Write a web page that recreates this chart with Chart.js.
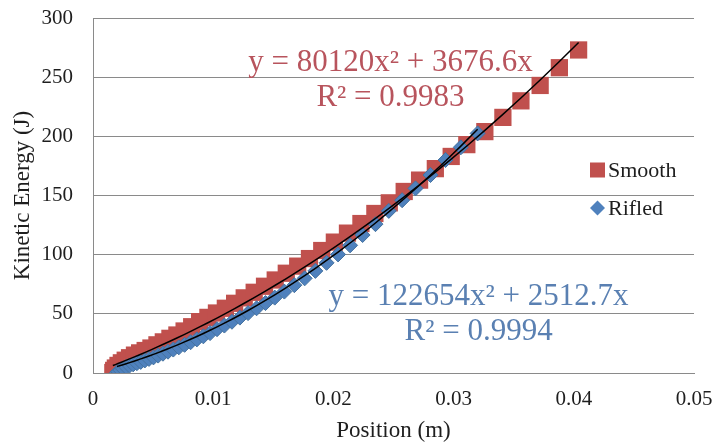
<!DOCTYPE html>
<html>
<head>
<meta charset="utf-8">
<script src="https://cdn.jsdelivr.net/npm/chart.js@4.4.0/dist/chart.umd.min.js"></script>
<style>
  html, body { margin: 0; padding: 0; background: #fff; }
  #wrap { width: 716px; height: 445px; }
</style>
</head>
<body>
<div id="wrap"><canvas id="chart" width="716" height="445"></canvas></div>
<script>
// ── Data ────────────────────────────────────
// Position in m, kinetic energy in J

const smoothX = [0.00165, 0.00172, 0.00186, 0.00208, 0.00236, 0.00268, 0.00304, 0.00345, 0.00388, 0.00434,
    0.00482, 0.00532, 0.00585, 0.0064, 0.00698, 0.00758, 0.00821, 0.00887, 0.00956, 0.01027,
    0.01101, 0.01178, 0.01258, 0.01341, 0.01427, 0.01516, 0.01608, 0.01703, 0.01801, 0.01903,
    0.02008, 0.02117, 0.02229, 0.02345, 0.02465, 0.02589, 0.02717, 0.02848, 0.0298, 0.0311,
    0.0326, 0.0341, 0.0356, 0.0372, 0.0388, 0.0404];
const smoothKE = [0.4, 2.2, 4.2, 6.4, 8.6, 10.8, 12.9, 15.1, 17.0, 19.0,
    21.1, 23.8, 26.3, 29.3, 32.1, 35.5, 39.1, 43.4, 47.0, 50.7,
    54.7, 58.9, 63.5, 68.2, 73.3, 78.6, 84.3, 90.3, 96.7, 103.5,
    110.6, 118.2, 126.3, 134.8, 143.8, 153.4, 163.0, 172.7, 183, 193,
    204, 216, 230, 243, 258, 273];

const rifledX = [0.0020, 0.0021, 0.00228, 0.0025, 0.00276, 0.00304, 0.00334, 0.00365, 0.00397, 0.00431,
    0.00466, 0.00503, 0.00542, 0.00582, 0.00624, 0.00668, 0.00714, 0.00762, 0.00812, 0.00864,
    0.00918, 0.00974, 0.01032, 0.01093, 0.01156, 0.01222, 0.0129, 0.01361, 0.01435, 0.01512,
    0.01592, 0.01675, 0.01761, 0.0185, 0.01943, 0.02039, 0.02139, 0.02243, 0.0235, 0.02461,
    0.02572, 0.02683, 0.02808, 0.02933, 0.0306, 0.0320];
const rifledKE = [0.3, 1.2, 2.4, 3.6, 5.0, 6.3, 7.3, 8.3, 9.4, 10.6,
    11.9, 13.2, 14.7, 16.3, 18.0, 19.8, 21.7, 23.8, 26.0, 28.4,
    31.0, 33.7, 37.0, 40.1, 43.3, 46.8, 50.6, 54.7, 59.1, 63.7,
    68.8, 74.2, 80.0, 86.3, 93.1, 100.2, 107.9, 116.6, 125.8, 137.0,
    146.0, 156.0, 167.3, 180.0, 190.7, 202.5];

const SERIES_NAMES = ['Smooth', 'Rifled'];
const X_TICK_LABELS = ['0', '0.01', '0.02', '0.03', '0.04', '0.05'];
const Y_TICK_LABELS = ['0', '50', '100', '150', '200', '250', '300'];

// Trendline coefficients as printed on the chart: y = a·x² + b·x
const SMOOTH_FIT = [80120, 3676.6];
const RIFLED_FIT = [122654, 2512.7];
const SMOOTH_R2 = '0.9983';
const RIFLED_R2 = '0.9994';

// ── Styling ─────────────────────────────────

const FONT = '"Liberation Serif", "Times New Roman", serif';
const TEXT_COLOR = '#1e1e1e';
const GRID_COLOR = '#8a8a8a';
const SMOOTH_COLOR = '#C0504D';
const RIFLED_COLOR = '#4F81BD';
const SMOOTH_TEXT = '#b8545d';
const RIFLED_TEXT = '#5a80b2';

function points(xs, ys) {
    return xs.map((x, i) => ({ x, y: ys[i] }));
}

function trend(xs, fit) {
    return xs.map(x => ({ x, y: fit[0] * x * x + fit[1] * x }));
}

// Equation labels, anchored in data units (centre of each line)
const EQ_LABELS = [
    { at: [0.02475, 262], color: SMOOTH_TEXT,
      lines: [`y = ${SMOOTH_FIT[0]}x² + ${SMOOTH_FIT[1]}x`, `R² = ${SMOOTH_R2}`] },
    { at: [0.03208, 64.5], color: RIFLED_TEXT,
      lines: [`y = ${RIFLED_FIT[0]}x² + ${RIFLED_FIT[1]}x`, `R² = ${RIFLED_R2}`] },
];

const overlayPlugin = {
    id: 'overlay',
    afterDatasetsDraw(chart) {
        const { ctx, scales: { x, y } } = chart;
        ctx.save();

        // trendline equations
        ctx.font = `31px ${FONT}`;
        ctx.textAlign = 'center';
        ctx.textBaseline = 'middle';
        EQ_LABELS.forEach(lbl => {
            ctx.fillStyle = lbl.color;
            const px = x.getPixelForValue(lbl.at[0]);
            const py = y.getPixelForValue(lbl.at[1]);
            lbl.lines.forEach((t, i) => ctx.fillText(t, px, py + i * 35));
        });

        // legend (sits inside the plot, no frame)
        const lx = 590, ly = 170, gap = 38;
        ctx.font = `22px ${FONT}`;
        ctx.textAlign = 'left';
        ctx.fillStyle = SMOOTH_COLOR;
        ctx.fillRect(lx, ly - 7.5, 15, 15);
        ctx.fillStyle = RIFLED_COLOR;
        ctx.beginPath();
        ctx.moveTo(lx + 7.5, ly + gap - 7.5);
        ctx.lineTo(lx + 15, ly + gap);
        ctx.lineTo(lx + 7.5, ly + gap + 7.5);
        ctx.lineTo(lx, ly + gap);
        ctx.closePath();
        ctx.fill();
        ctx.fillStyle = TEXT_COLOR;
        ctx.fillText(SERIES_NAMES[0], lx + 18, ly + 1);
        ctx.fillText(SERIES_NAMES[1], lx + 18, ly + gap + 1);

        ctx.restore();
    },
};

Chart.defaults.font.family = FONT;
Chart.defaults.color = TEXT_COLOR;

new Chart(document.getElementById('chart'), {
    type: 'scatter',
    data: {
        datasets: [
            {
                label: SERIES_NAMES[0] + ' trend',
                data: trend(smoothX, SMOOTH_FIT),
                showLine: true, borderColor: '#000', borderWidth: 1.5,
                pointRadius: 0, order: 0,
            },
            {
                label: SERIES_NAMES[1] + ' trend',
                data: trend(rifledX, RIFLED_FIT),
                showLine: true, borderColor: '#000', borderWidth: 1.5,
                pointRadius: 0, order: 0,
            },
            {
                label: SERIES_NAMES[1],
                data: points(rifledX, rifledKE),
                pointStyle: 'rectRot', pointRadius: 7.5,
                backgroundColor: RIFLED_COLOR, borderColor: '#45729f', borderWidth: 1,
                order: 1,
            },
            {
                label: SERIES_NAMES[0],
                data: points(smoothX, smoothKE),
                pointStyle: 'rect', pointRadius: 12.2,
                backgroundColor: SMOOTH_COLOR, borderWidth: 0,
                order: 2,
            },
        ],
    },
    options: {
        responsive: false,
        animation: false,
        events: [],
        layout: { padding: { top: 18, right: 22, left: 0, bottom: 0 } },
        plugins: {
            legend: { display: false },
            tooltip: { enabled: false },
        },
        scales: {
            x: {
                type: 'linear', min: 0, max: 0.05,
                ticks: {
                    stepSize: 0.01, padding: 14,
                    font: { size: 21 }, color: TEXT_COLOR,
                    callback: (v, i) => X_TICK_LABELS[i],
                },
                grid: { display: false, drawTicks: false },
                border: { display: true, color: GRID_COLOR, width: 1 },
                title: {
                    display: true, text: 'Position (m)', color: TEXT_COLOR,
                    font: { size: 23 }, padding: { top: 0, bottom: 0 },
                },
                afterFit: s => { s.height = 72; s.paddingLeft = 0; s.paddingRight = 0; },
            },
            y: {
                type: 'linear', min: 0, max: 300,
                ticks: {
                    stepSize: 50, padding: 20,
                    font: { size: 21 }, color: TEXT_COLOR,
                    callback: (v, i) => Y_TICK_LABELS[i],
                },
                grid: { color: GRID_COLOR, lineWidth: 1, drawTicks: false },
                border: { display: true, color: GRID_COLOR, width: 1 },
                title: {
                    display: true, text: 'Kinetic Energy (J)', color: TEXT_COLOR,
                    font: { size: 23 }, padding: { top: 9, bottom: 0 },
                },
                afterFit: s => { s.width = 93; s.paddingTop = 0; s.paddingBottom = 0; },
            },
        },
    },
    plugins: [overlayPlugin],
});
</script>
</body>
</html>
